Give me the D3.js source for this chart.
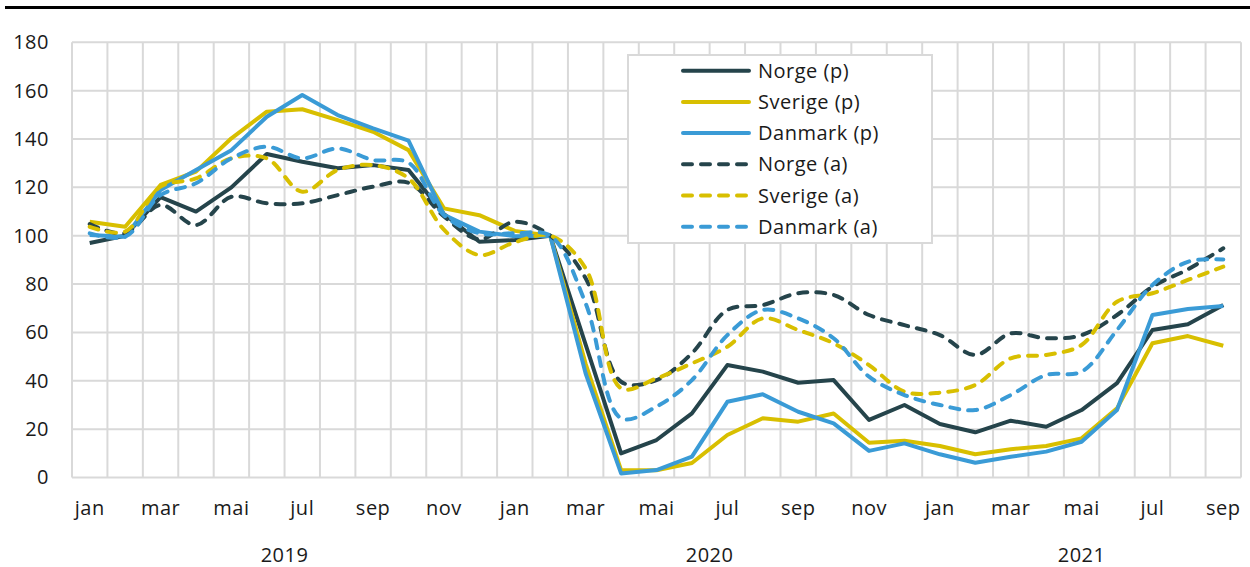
<!DOCTYPE html>
<html>
<head>
<meta charset="utf-8">
<script src="https://cdn.jsdelivr.net/npm/d3@7"></script>
<style>
  body { margin: 0; background: #fff; }
  svg text { font-family: "Open Sans", sans-serif; fill: #1a1a1a; letter-spacing: 0.5px; }
</style>
</head>
<body>
<script>
// Måneder jan 2019 - sep 2021
const monthNames = ["jan","feb","mar","apr","mai","jun","jul","aug","sep","okt","nov","des"];
const months = d3.range(33).map(i => monthNames[i % 12]);
const years = [
  { label: "2019", from: 0, to: 11 },
  { label: "2020", from: 12, to: 23 },
  { label: "2021", from: 24, to: 32 }
];
const yTicks = [0, 20, 40, 60, 80, 100, 120, 140, 160, 180];

const norgeP = [97, 100, 116, 110, 120, 133.8, 130.6, 127.9, 129.2, 127.2, 109, 97.5, 98.2, 100, 55, 10, 15.5, 26.5, 46.5, 43.8, 39.2, 40.3, 23.8, 30, 22.1, 18.7, 23.5, 21, 27.9, 39, 61, 63.4, 71.3];
const sverigeP = [105.8, 103.7, 121, 126.5, 140.3, 151.3, 152.3, 147.8, 143, 135.4, 111.3, 108.5, 102, 100, 47, 3, 3, 6, 17.6, 24.5, 23.1, 26.5, 14.4, 15.2, 13, 9.6, 11.7, 13, 16.2, 28.6, 55.5, 58.5, 54.5];
const danmarkP = [100.3, 99.6, 118.9, 127.2, 135.4, 149.2, 158.2, 149.9, 144.4, 139.3, 108.6, 101.7, 99.8, 100, 43, 1.7, 3.1, 8.6, 31.3, 34.4, 27.2, 22.4, 11, 14.1, 9.6, 6.1, 8.6, 10.7, 14.8, 27.9, 67.2, 69.7, 70.9];
const norgeA = [104.8, 101, 112.7, 104.4, 116.1, 113.4, 113.4, 116.8, 120.3, 121.9, 108, 98.5, 105.8, 100, 82.4, 39.6, 40.3, 51.4, 69.3, 71.3, 76.2, 75.5, 67.2, 63, 58.9, 50.7, 59.6, 57.6, 58.9, 67.2, 78.9, 86.1, 94.8];
const sverigeA = [103.7, 101.7, 120.3, 123.7, 132, 132, 118.2, 127.2, 129.2, 123.7, 102.5, 92, 97.3, 100, 86.5, 36.9, 41, 47.2, 54.1, 65.8, 61, 55.5, 46.5, 35.5, 35.1, 38.3, 49.3, 50.7, 54.8, 72.7, 76.2, 81.7, 87.2];
const danmarkA = [101, 99.6, 116.8, 121.7, 132, 136.8, 132, 136.1, 131.3, 130.2, 108.5, 101, 101, 100, 72, 24.5, 29.3, 40.3, 58.9, 69.3, 65.8, 57.6, 41.7, 34.1, 30, 27.9, 34.1, 42.4, 43.8, 61, 79.6, 89.2, 90.2];

const seriesNames = ["Norge (p)", "Sverige (p)", "Danmark (p)", "Norge (a)", "Sverige (a)", "Danmark (a)"];
const seriesValues = [norgeP, sverigeP, danmarkP, norgeA, sverigeA, danmarkA];
const seriesColors = ["#25444b", "#d8bf00", "#3a9bd6", "#25444b", "#d8bf00", "#3a9bd6"];
const seriesDashed = [false, false, false, true, true, true];

const width = 1250, height = 567;
const plotLeft = 72, plotRight = 1241, plotTop = 42.3, plotBottom = 477.5;

const svg = d3.select("body").append("svg")
  .attr("width", width)
  .attr("height", height);

// topplinje
svg.append("line")
  .attr("x1", 5).attr("x2", width)
  .attr("y1", 7.5).attr("y2", 7.5)
  .attr("stroke", "#000").attr("stroke-width", 3);

const x = d3.scaleBand().domain(d3.range(months.length)).range([plotLeft, plotRight]);
const y = d3.scaleLinear().domain([0, 180]).range([plotBottom, plotTop]);

// rutenett
const grid = svg.append("g").attr("stroke", "#d9d9d9").attr("stroke-width", 2);
grid.selectAll(".hg").data(yTicks).enter().append("line")
  .attr("x1", plotLeft).attr("x2", plotRight)
  .attr("y1", d => y(d)).attr("y2", d => y(d));
grid.selectAll(".vg").data(d3.range(months.length + 1)).enter().append("line")
  .attr("x1", d => plotLeft + d * x.step()).attr("x2", d => plotLeft + d * x.step())
  .attr("y1", plotTop).attr("y2", plotBottom);

// y-akse
const yAxis = svg.append("g")
  .attr("transform", `translate(${plotLeft - 23},0)`)
  .call(d3.axisLeft(y).tickValues(yTicks).tickSize(0).tickPadding(0));
yAxis.select(".domain").remove();
yAxis.selectAll("text").style("font-size", "20px").style("fill", "#1a1a1a");

// x-akse
const xAxis = svg.append("g")
  .attr("transform", `translate(0,${plotBottom})`)
  .call(d3.axisBottom(x)
    .tickValues(d3.range(0, months.length, 2))
    .tickFormat(i => months[i])
    .tickSize(0).tickPadding(23));
xAxis.select(".domain").remove();
xAxis.selectAll("text").style("font-size", "20px").style("fill", "#1a1a1a");

svg.selectAll(".year").data(years).enter().append("text")
  .attr("x", d => (x(d.from) + x(d.to) + x.bandwidth()) / 2)
  .attr("y", 562)
  .attr("text-anchor", "middle")
  .style("font-size", "20px")
  .text(d => d.label);

// linjer
const lineStraight = d3.line()
  .x((d, i) => x(i) + x.bandwidth() / 2)
  .y(d => y(d));
const lineSmooth = d3.line()
  .x((d, i) => x(i) + x.bandwidth() / 2)
  .y(d => y(d))
  .curve(d3.curveCatmullRom.alpha(0.5));

seriesValues.forEach((vals, k) => {
  svg.append("path")
    .datum(vals)
    .attr("fill", "none")
    .attr("stroke", seriesColors[k])
    .attr("stroke-width", 4)
    .attr("stroke-linejoin", "round")
    .attr("stroke-linecap", seriesDashed[k] ? "round" : "butt")
    .attr("stroke-dasharray", seriesDashed[k] ? "9,9" : null)
    .attr("d", seriesDashed[k] ? lineSmooth : lineStraight);
});

// legende
const legend = svg.append("g");
legend.append("rect")
  .attr("x", 628).attr("y", 55)
  .attr("width", 304).attr("height", 188)
  .attr("fill", "#fff")
  .attr("stroke", "#d9d9d9").attr("stroke-width", 2);

const rows = legend.selectAll(".row").data(seriesNames).enter().append("g")
  .attr("transform", (d, i) => `translate(0,${70.7 + i * 31.2})`);
rows.append("line")
  .attr("x1", 683).attr("x2", 749)
  .attr("stroke", (d, i) => seriesColors[i])
  .attr("stroke-width", 4)
  .attr("stroke-linecap", "round")
  .attr("stroke-dasharray", (d, i) => seriesDashed[i] ? "9,9" : null);
rows.append("text")
  .attr("x", 758).attr("dy", "0.35em")
  .style("font-size", "20px")
  .text(d => d);
</script>
</body>
</html>
